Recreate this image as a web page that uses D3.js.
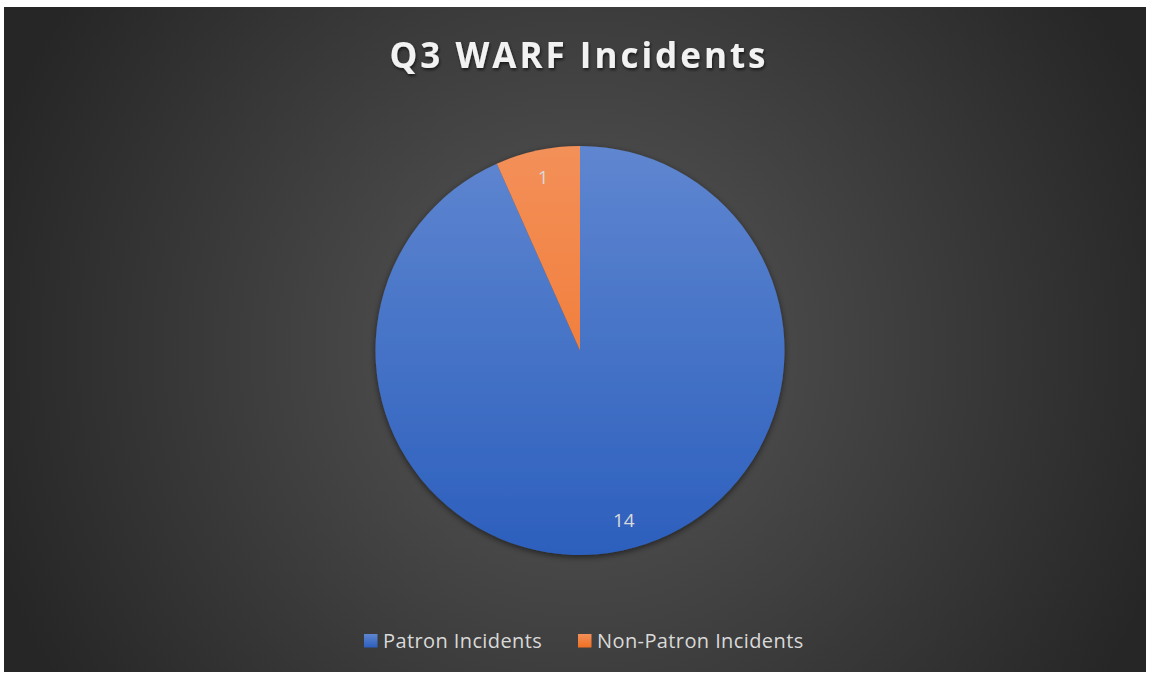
<!DOCTYPE html>
<html>
<head>
<meta charset="utf-8">
<script src="https://cdn.jsdelivr.net/npm/d3@7"></script>
<style>
  body { margin: 0; background: #ffffff; }
  svg { display: block; }
</style>
</head>
<body>
<svg width="1151" height="675"></svg>
<script>
// Data
const categories = ['Patron Incidents', 'Non-Patron Incidents'];
const values = [14, 1];
const colors_top = ['#5f86d0', '#f39059'];
const colors_bottom = ['#2c5fbd', '#f06f22'];
const chart_title = 'Q3 WARF Incidents';

// Constants
const svg = d3.select('svg');
const width = +svg.attr('width');
const height = +svg.attr('height');
const frame = { left: 4, top: 7, right: 5, bottom: 3 };
const cx = 580, cy = 350.5, radius = 204.5;

const defs = svg.append('defs');

// background gradient
const bg = defs.append('radialGradient')
    .attr('id', 'bg')
    .attr('gradientUnits', 'userSpaceOnUse')
    .attr('cx', cx).attr('cy', cy)
    .attr('r', 620);
bg.append('stop').attr('offset', '0%').attr('stop-color', '#585858');
bg.append('stop').attr('offset', '100%').attr('stop-color', '#262626');

// slice gradients
categories.forEach((c, i) => {
    const g = defs.append('linearGradient')
        .attr('id', 'slice' + i)
        .attr('gradientUnits', 'userSpaceOnUse')
        .attr('x1', 0).attr('y1', -radius)
        .attr('x2', 0).attr('y2', radius);
    g.append('stop').attr('offset', '0%').attr('stop-color', colors_top[i]);
    g.append('stop').attr('offset', '100%').attr('stop-color', colors_bottom[i]);
});

const shadow = defs.append('filter')
    .attr('id', 'shadow')
    .attr('x', '-20%').attr('y', '-20%')
    .attr('width', '140%').attr('height', '140%');
shadow.append('feDropShadow')
    .attr('dx', 0).attr('dy', 2)
    .attr('stdDeviation', 3)
    .attr('flood-color', '#000')
    .attr('flood-opacity', 0.55);

const title_shadow = defs.append('filter').attr('id', 'tshadow');
title_shadow.append('feDropShadow')
    .attr('dx', 1).attr('dy', 2)
    .attr('stdDeviation', 1.5)
    .attr('flood-color', '#000')
    .attr('flood-opacity', 0.6);

svg.append('rect')
    .attr('x', frame.left)
    .attr('y', frame.top)
    .attr('width', width - frame.left - frame.right)
    .attr('height', height - frame.top - frame.bottom)
    .attr('fill', 'url(#bg)');

// Title
svg.append('text')
    .attr('x', 579)
    .attr('y', 68)
    .attr('text-anchor', 'middle')
    .attr('fill', '#f2f2f2')
    .attr('font-family', 'Open Sans, sans-serif')
    .attr('font-weight', 'bold')
    .attr('font-size', '35px')
    .attr('letter-spacing', '3px')
    .attr('filter', 'url(#tshadow)')
    .text(chart_title);

// Pie
const pie = d3.pie().sort(null).startAngle(0).endAngle(2 * Math.PI);
const arcs = pie(values);
const arc = d3.arc().innerRadius(0).outerRadius(radius);
const label_arc = d3.arc().innerRadius(radius * 0.865).outerRadius(radius * 0.865);

const chart = svg.append('g')
    .attr('transform', `translate(${cx}, ${cy})`);

chart.append('g')
    .attr('filter', 'url(#shadow)')
    .selectAll('path')
    .data(arcs)
    .enter().append('path')
    .attr('d', arc)
    .attr('fill', (d, i) => `url(#slice${i})`);

chart.selectAll('.label')
    .data(arcs)
    .enter().append('text')
    .attr('class', 'label')
    .attr('transform', d => {
        const [x, y] = label_arc.centroid(d);
        // Excel nudges the big slice's label a bit toward the right
        return d.index === 0 ? `translate(${x + 7}, ${y - 3})` : `translate(${x}, ${y})`;
    })
    .attr('dy', '.35em')
    .attr('text-anchor', 'middle')
    .attr('fill', '#d9d9d9')
    .attr('font-family', 'Open Sans, sans-serif')
    .attr('font-size', '19px')
    .text(d => d.data);

// Legend
const legend_x = [364, 578];
const legend = svg.append('g');
categories.forEach((c, i) => {
    const g = defs.append('linearGradient')
        .attr('id', 'leg' + i)
        .attr('x1', 0).attr('y1', 0).attr('x2', 0).attr('y2', 1);
    g.append('stop').attr('offset', '0%').attr('stop-color', colors_top[i]);
    g.append('stop').attr('offset', '100%').attr('stop-color', colors_bottom[i]);
    legend.append('rect')
        .attr('x', legend_x[i])
        .attr('y', 634)
        .attr('width', 13.5)
        .attr('height', 13.5)
        .attr('fill', `url(#leg${i})`);
    legend.append('text')
        .attr('x', legend_x[i] + 19)
        .attr('y', 648)
        .attr('fill', '#d9d9d9')
        .attr('font-family', 'Open Sans, sans-serif')
        .attr('font-size', '20px')
        .attr('letter-spacing', '0.4px')
        .text(c);
});
</script>
</body>
</html>
